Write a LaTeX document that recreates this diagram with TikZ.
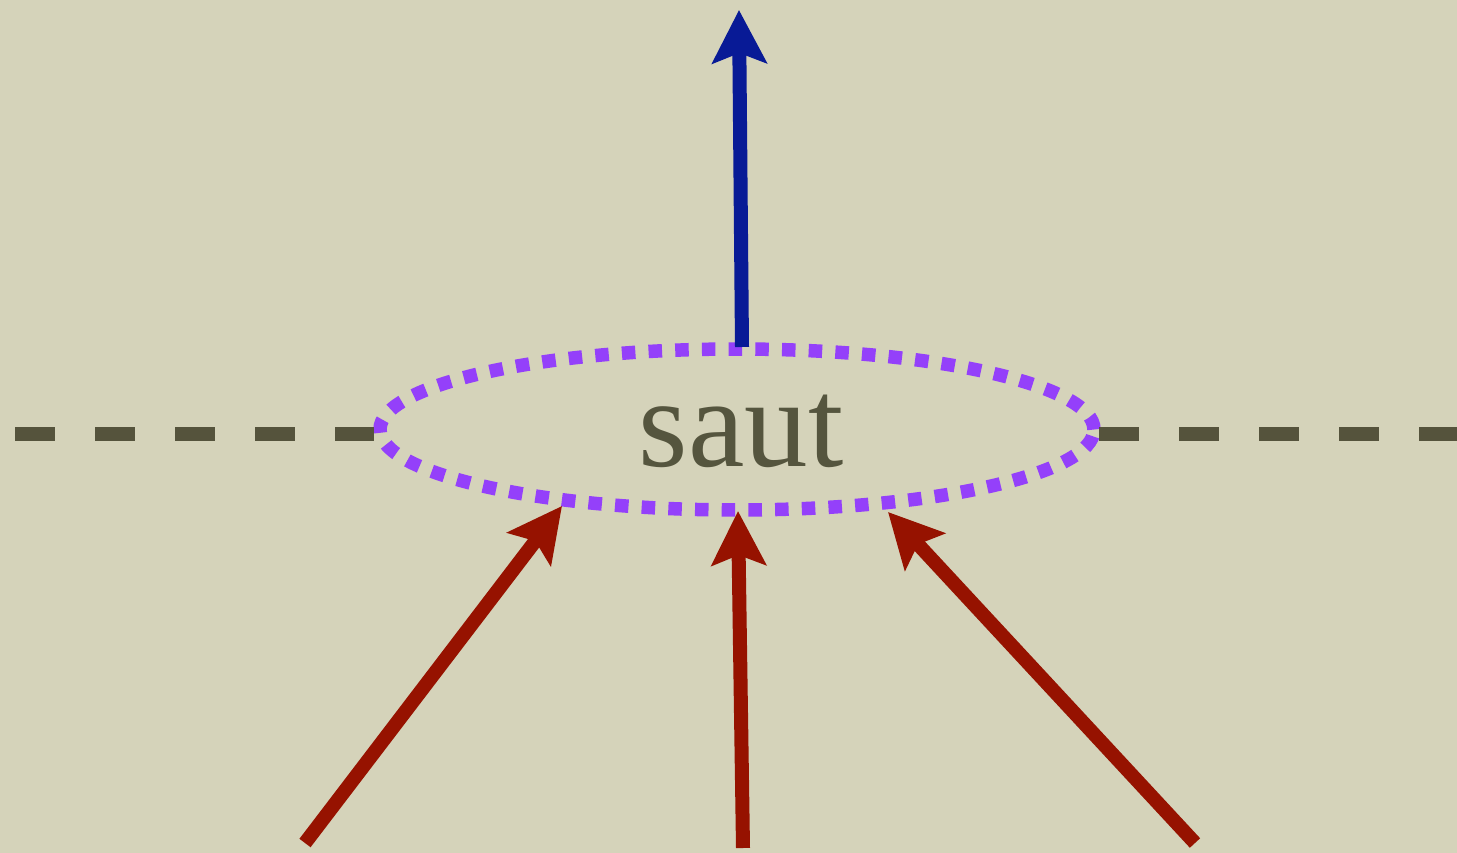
\documentclass[tikz,border=0pt]{standalone}
\usepackage{fontspec}
\setmainfont{Liberation Serif}
\usetikzlibrary{arrows.meta,shapes.geometric}
\definecolor{bgc}{RGB}{213,211,186}
\definecolor{dashc}{RGB}{85,83,60}
\definecolor{ringc}{RGB}{148,64,250}
\definecolor{bluec}{RGB}{8,26,150}
\definecolor{redc}{RGB}{150,18,0}
\definecolor{textc}{RGB}{85,85,62}
\tikzset{
  horizon/.style={draw=dashc, line width=13.5pt, dash pattern=on 40pt off 40pt, line cap=butt},
  ringstyle/.style={ellipse, draw=ringc, line width=13.5pt, dash pattern=on 13.5pt off 13.2pt,
    minimum width=714pt, minimum height=161pt, inner sep=0pt, outer sep=0pt},
  redarrow/.style={draw=redc, line width=14pt, -{Stealth[length=54pt, width=54pt, inset=10pt]}},
  bluearrow/.style={draw=bluec, line width=14pt, -{Stealth[length=53pt, width=54pt, inset=10pt]}},
  labelstyle/.style={text=textc, font=\fontsize{127}{150}\selectfont, inner sep=0pt, anchor=base}
}
\begin{document}
\begin{tikzpicture}[x=1pt, y=-1pt]
  \fill[bgc] (0,0) rectangle (1457,853);
  \useasboundingbox (0,0) rectangle (1457,853);
  % ring and label
  \node[ringstyle] (ring) at (737,429.5) {};
  \node[labelstyle] (label) at (741,466) {saut};
  % horizon dashes
  \coordinate (hl) at (15,434);
  \coordinate (hle) at (374,434);
  \coordinate (hrs) at (1099,434);
  \coordinate (hr) at (1470,434);
  \draw[horizon] (hl) -- (hle);
  \draw[horizon] (hrs) -- (hr);
  % blue arrow
  \coordinate (b0) at (742,347);
  \coordinate (b1) at (739,10);
  \draw[bluearrow] (b0) -- (b1);
  % red arrows
  \coordinate (r1s) at (305,843);
  \coordinate (r1t) at (562,506);
  \coordinate (r2s) at (743,848);
  \coordinate (r2t) at (738,511);
  \coordinate (r3s) at (1195,843);
  \coordinate (r3t) at (888,512);
  \draw[redarrow] (r1s) -- (r1t);
  \draw[redarrow] (r2s) -- (r2t);
  \draw[redarrow] (r3s) -- (r3t);
\end{tikzpicture}
\end{document}
